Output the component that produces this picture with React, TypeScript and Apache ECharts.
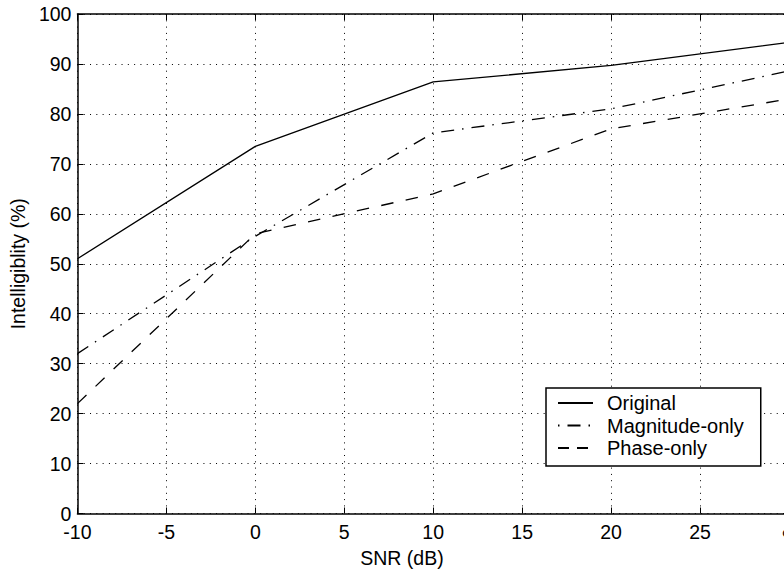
import React, { useEffect, useRef } from "react";
import * as echarts from "echarts";

const snr = [-10, 0, 10, 20, 30];
const original = [51, 73.5, 86.4, 89.7, 94.3];
const magnitudeOnly = [32, 55.5, 76.2, 81, 88.6];
const phaseOnly = [22, 56, 64, 77, 83];
const seriesNames = ["Original", "Magnitude-only", "Phase-only"];
const xTicks = [-10, -5, 0, 5, 10, 15, 20, 25, "∞"];

const FONT = "'Liberation Sans', Arial, Helvetica, sans-serif";

export default function App() {
  const ref = useRef<HTMLDivElement>(null);
  useEffect(() => {
    if (!ref.current) return;
    const chart = echarts.init(ref.current, undefined, { renderer: "svg" });
    const toPairs = (ys: number[]) => snr.map((x, i) => [x, ys[i]]);
    const lineW = 1.3;
    const dashDot = [13, 8, 1.5, 8];
    const dashed = [12.5, 12.5];
    chart.setOption({
      animation: false,
      backgroundColor: "#fff",
      textStyle: { fontFamily: FONT, color: "#000" },
      grid: { left: 77, top: 14, right: 11, bottom: 56.5, show: false },
      xAxis: [
        {
          type: "value",
          min: -10,
          max: 30,
          interval: 5,
          position: "bottom",
          axisLine: { show: true, onZero: false, lineStyle: { color: "#000", width: 1.5 } },
          axisTick: { show: true, inside: true, length: 6, lineStyle: { color: "#000", width: 1 } },
          axisLabel: {
            color: "#000",
            fontSize: 19.5,
            fontFamily: FONT,
            margin: 8,
            formatter: (v: number) => {
              const idx = Math.round((v + 10) / 5);
              return String(xTicks[idx] ?? v);
            },
          },
          splitLine: { show: true, lineStyle: { color: "#000", width: 1, type: [1, 5.3] } },
        },
        {
          type: "value",
          min: -10,
          max: 30,
          interval: 5,
          position: "top",
          axisLine: { show: true, onZero: false, lineStyle: { color: "#000", width: 1.5 } },
          axisTick: { show: true, inside: true, length: 6, lineStyle: { color: "#000", width: 1 } },
          axisLabel: { show: false },
          splitLine: { show: false },
        },
      ],
      yAxis: {
        type: "value",
        min: 0,
        max: 100,
        interval: 10,
        name: "Intelligiblity (%)",
        nameLocation: "middle",
        nameGap: 47,
        nameRotate: 90,
        nameTextStyle: { color: "#000", fontSize: 19.5, fontFamily: FONT },
        axisLine: { show: true, onZero: false, lineStyle: { color: "#000", width: 1.5 } },
        axisTick: { show: true, inside: true, length: 6, lineStyle: { color: "#000", width: 1 } },
        axisLabel: { color: "#000", fontSize: 19.5, fontFamily: FONT, margin: 6 },
        splitLine: { show: true, lineStyle: { color: "#000", width: 1, type: [1, 5.3] } },
      },
      legend: {
        orient: "vertical",
        left: 546,
        top: 388,
        itemWidth: 35,
        itemHeight: 14,
        itemGap: 2.5,
        padding: [5, 17, 8, 11],
        borderColor: "#000",
        borderWidth: 1.5,
        backgroundColor: "#fff",
        itemStyle: { color: "rgba(0,0,0,0)", borderWidth: 0, opacity: 0 },
        textStyle: { color: "#000", fontSize: 20, fontFamily: FONT, padding: [0, 0, 0, 9] },
        data: [
          { name: seriesNames[0] },
          { name: seriesNames[1], lineStyle: { dashOffset: 21 } },
          { name: seriesNames[2], lineStyle: { type: [11, 8] } },
        ],
      },
      graphic: [
        {
          type: "text",
          x: 402,
          y: 558,
          style: {
            text: "SNR (dB)",
            fontSize: 19.5,
            fontFamily: FONT,
            fill: "#000",
            align: "center",
            verticalAlign: "middle",
          },
        },
      ],
      series: [
        {
          name: seriesNames[0],
          type: "line",
          symbol: "none",
          data: toPairs(original),
          lineStyle: { color: "#000", width: lineW, type: "solid" },
          itemStyle: { color: "#000" },
        },
        {
          name: seriesNames[1],
          type: "line",
          symbol: "none",
          data: toPairs(magnitudeOnly),
          lineStyle: { color: "#000", width: lineW, type: dashDot },
          itemStyle: { color: "#000" },
        },
        {
          name: seriesNames[2],
          type: "line",
          symbol: "none",
          data: toPairs(phaseOnly),
          lineStyle: { color: "#000", width: lineW, type: dashed },
          itemStyle: { color: "#000" },
        },
      ],
    });
    return () => chart.dispose();
  }, []);
  return (
    <div
      ref={ref}
      style={{ position: "fixed", left: 0, top: 0, width: 800, height: 570, background: "#fff" }}
    />
  );
}
